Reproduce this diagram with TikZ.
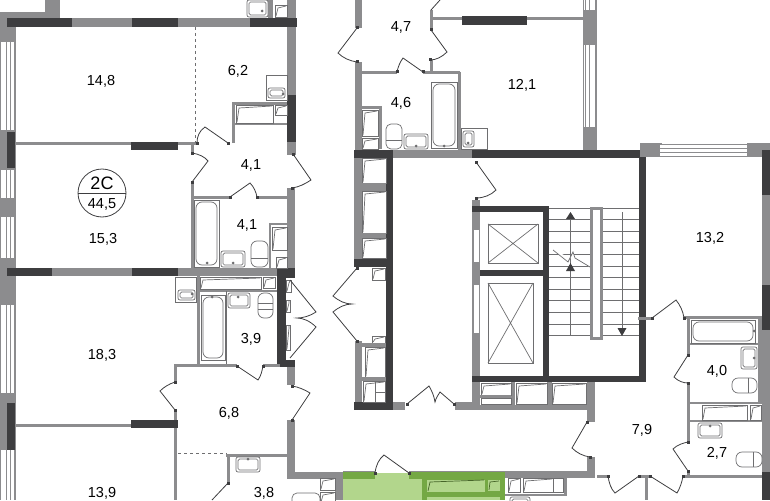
\documentclass[tikz,border=0pt]{standalone}
\usepackage{fontspec}
\setmainfont{Liberation Sans}
\definecolor{wallgray}{HTML}{8C8C8E}
\definecolor{walldark}{HTML}{3D3D3F}
\definecolor{fitgray}{HTML}{6E6E70}
\definecolor{greenlight}{HTML}{B2D68C}
\definecolor{greendark}{HTML}{74A844}
\tikzset{
  wallg/.style={fill=wallgray},
  walld/.style={fill=walldark},
  thinwall/.style={draw=wallgray,line width=3},
  fitting/.style={draw=fitgray,line width=.7,fill=white},
  fitline/.style={draw=fitgray,line width=.7},
  doorleaf/.style={draw=walldark,line width=.8},
  area/.style={font=\fontsize{14.5}{16}\selectfont,inner sep=0pt},
  winline/.style={draw=wallgray,line width=1}
}
\newcommand{\gw}[4]{\fill[wallg] (#1,#2) rectangle (#3,#4);}
\newcommand{\dw}[4]{\fill[walld] (#1,#2) rectangle (#3,#4);}
\newcommand{\ductbox}[4]{\draw[fitting] (#1,#2) rectangle (#3,#4);
  \draw[fitline] ({#1+1},{#4-1}) -- ({#1+3},{#2+3}) -- ({#3-1},{#2+1});}
\newcommand{\sinkbox}[4]{\draw[fitting,rounded corners=2] (#1,#2) rectangle (#3,#4);
  \draw[fitline,rounded corners=1.5] ({#1+2},{#2+2}) rectangle ({#3-2},{#4-2});}
\newcommand{\bathbox}[4]{\draw[fitting] (#1,#2) rectangle (#3,#4);
  \draw[fitline,rounded corners=6] ({#1+2},{#2+2}) rectangle ({#3-2},{#4-2});}
\newcommand{\toiletv}[4]{\draw[fitting,rounded corners=6] (#1,#2) rectangle (#3,#4);
  \draw[fitline] (#1,{#4-9}) -- (#3,{#4-9});}
\newcommand{\toileth}[4]{\draw[fitting,rounded corners=6] (#1,#2) rectangle (#3,#4);
  \draw[fitline] ({#3-9},#2) -- ({#3-9},#4);}
\begin{document}
\begin{tikzpicture}[x=1pt,y=-1pt]
\useasboundingbox (0,0) rectangle (770,500);
% top left corner
\gw{0}{12}{60}{18}
\gw{45}{0}{60}{18}
% left outer wall and windows
\gw{0}{18}{15.5}{500}
\foreach \a/\b in {42/130,170/198,217/258,305/393,450/500}{
  \fill[white] (1,\a) rectangle (15.5,\b);
  \draw[winline] (0.5,\a) -- (0.5,\b);
  \draw[winline] (6.7,\a) -- (6.7,\b);
  \draw[winline] (10.5,\a) -- (10.5,\b);
  \draw[winline,line width=2] (14.5,\a) -- (14.5,\b);
}
\dw{7}{132}{15}{168}
\dw{7}{403}{15}{450}
% flat walls, left side
\gw{7}{18}{297}{27}
\dw{7}{18}{72}{27}
\dw{132}{18}{178}{27}
\dw{250}{18}{297}{27}
\gw{287}{0}{296}{18}
\gw{268}{0}{273}{18}
\gw{287}{27}{296}{155}
\dw{287}{95}{296}{142}
\gw{287}{188}{295}{270}
\draw[thinwall] (15,143.5) -- (196,143.5);
\dw{131}{142}{178}{150}
\draw[thinwall] (192,143) -- (192,153);
\draw[thinwall] (192,182) -- (192,270);
\draw[thinwall] (191,197) -- (230,197);
\draw[thinwall] (257,197) -- (287,197);
\draw[dashed,fitline] (195.5,27) -- (195.5,143);
\draw[thinwall] (233,143) -- (233,103.5) -- (287,103.5);
\draw[thinwall,line width=2] (235,124) -- (287,124);
\gw{7}{268}{295}{276}
\dw{7}{268}{52}{276}
\dw{132}{268}{178}{276}
\dw{277}{268}{295}{278}
\dw{277}{268}{286}{367}
\dw{277}{360}{295}{367}
\gw{287}{367}{295}{385}
\gw{287}{420}{295}{479}
\gw{288}{472}{343}{479}
\draw[thinwall] (198.5,276) -- (198.5,365);
\draw[thinwall,line width=2] (198,291) -- (277,291);
\draw[fitline] (226.5,291) -- (226.5,365);
\draw[thinwall] (175,367) -- (175,365.5) -- (237,365.5);
\draw[thinwall] (263,365.5) -- (280,365.5);
\draw[thinwall] (175,365) -- (175,382);
\draw[thinwall] (175,410) -- (175,500);
\draw[thinwall] (15,425) -- (131,425);
\dw{131}{420}{178}{428}
\draw[dashed,fitline] (178,453) -- (227,453);
\draw[thinwall] (226,455.5) -- (290,455.5);
\draw[thinwall] (228.5,455) -- (228.5,483);
% core walls
\gw{355}{0}{362}{28}
\gw{355}{62}{362}{155}
\gw{355}{341}{362}{402}
\gw{354}{158}{362}{262}
\draw[thinwall] (431,10) -- (431,30);
\draw[thinwall] (431,60) -- (431,72);
\draw[thinwall] (431,18.5) -- (583,18.5);
\dw{462}{16}{527}{25}
\draw[thinwall] (360,72.5) -- (397,72.5);
\draw[thinwall] (423,72.5) -- (460,72.5);
\draw[thinwall] (459,72) -- (459,150);
\gw{393}{150}{472}{158}
\dw{354}{150}{393}{158}
\dw{472}{150}{646}{158}
\dw{386}{150}{393}{410}
\dw{354}{259}{393}{267}
\dw{354}{402}{393}{410}
\gw{393}{402}{405}{410}
\gw{455}{402}{472}{410}
\gw{472}{382}{480}{410}
\gw{472}{405}{595}{410}
\dw{639}{150}{646}{382}
\dw{472}{376}{646}{382}
\dw{472}{206}{549}{212}
\dw{543}{206}{549}{382}
\dw{472}{270}{543}{276}
\gw{472}{200}{480}{206}
\gw{472}{212}{480}{376}
\fill[white] (473.5,230) rectangle (478.5,262);
\fill[white] (473.5,285) rectangle (478.5,333);
\gw{511}{382}{515}{405}
\gw{547}{382}{552}{405}
\gw{587}{382}{595}{422}
\gw{587}{457}{595}{478}
\gw{505}{471}{595}{478}
\gw{335}{479}{343}{500}
% right part
\gw{583}{0}{597}{150}
\foreach \a/\b in {0/10,45/127}{
  \fill[white] (584,\a) rectangle (596,\b);
  \draw[winline] (585,\a) -- (585,\b);
  \draw[winline] (589.5,\a) -- (589.5,\b);
  \draw[winline] (595.5,\a) -- (595.5,\b);
}
\gw{640}{143}{662}{157}
\gw{747}{143}{770}{157}
\fill[white] (660,144) rectangle (747,157);
\foreach \a in {144,148,152,156}{\draw[winline] (660,\a) -- (747,\a);}
\gw{762}{150}{770}{500}
\dw{762}{150}{770}{195}
\dw{762}{285}{770}{330}
\dw{762}{472}{770}{500}
\gw{758}{318}{762}{403}
\draw[thinwall] (638,318) -- (652,318);
\draw[thinwall] (684,317.5) -- (762,317.5);
\draw[thinwall] (688,317) -- (688,355);
\draw[thinwall] (688,383) -- (688,442);
\draw[thinwall] (688,471) -- (688,477);
\draw[thinwall] (597,476.5) -- (608,476.5);
\draw[thinwall] (639,476.5) -- (650,476.5);
\draw[thinwall] (683,476.5) -- (762,476.5);
\draw[thinwall] (646,476) -- (646,500);
\draw[thinwall,line width=2] (688,344) -- (758,344);
\draw[thinwall,line width=2] (690,403) -- (762,403);
\draw[thinwall,line width=2] (690,421) -- (762,421);
\draw[thinwall] (565,477) -- (565,496);
\draw[thinwall,line width=2] (505,495) -- (566,495);
% stairs
\foreach \y in {208,219.6,...,338}{\draw[fitline] (549,\y) -- (639,\y);}
\fill[wallgray] (590,207) rectangle (603,340);
\fill[white] (593,210) rectangle (600,337);
\draw[fitline] (570.5,335) -- (570.5,219);
\draw[fitline] (622,212) -- (622,328);
\fill[walldark] (570.5,212) -- (566,219) -- (575,219) -- cycle;
\fill[walldark] (570.5,263) -- (566,271) -- (575,271) -- cycle;
\fill[walldark] (622,336) -- (617.5,328) -- (626.5,328) -- cycle;
\draw[fitline,fill=white] (553,250) -- (568,262) -- (573,252) -- (575,258) -- (590,267);
% lifts
\draw[fitline] (488,224) rectangle (538,263);
\draw[fitline] (488,224) -- (538,263) (488,263) -- (538,224);
\draw[fitline] (488,283) rectangle (533,363);
\draw[fitline] (488,283) -- (533,363) (488,363) -- (533,283);
% green block
\fill[greenlight] (343,473) rectangle (422,500);
\fill[wallgray] (343,470.5) rectangle (375,472.5);
\fill[wallgray] (409,470.5) rectangle (505,472.5);
\fill[greendark] (343,472) rectangle (375,479);
\fill[greendark] (409,472) rectangle (505,479);
\fill[greendark] (422,479) rectangle (505,500);
\fill[greenlight] (427,479.5) rectangle (485,492);
\fill[greenlight] (488,479.5) rectangle (500,491);
\fill[greenlight] (427,497) rectangle (500,500);
\draw[draw=greendark!60!black,line width=.7] (428,491) -- (430,482) -- (484,480);
\draw[draw=greendark!60!black,line width=.7] (489,490) -- (490,482) -- (499,481);
% fittings
\sinkbox{247}{0}{268}{17}
\ductbox{275}{5}{287}{17}
\draw[fitting] (266,75) rectangle (287,100);
\sinkbox{268}{88}{285}{98}
\ductbox{236}{105}{273}{123}
\ductbox{275}{105}{287}{115}
\bathbox{194}{200}{219}{267}
\sinkbox{221}{251}{245}{267}
\toiletv{251}{241}{268}{267}
\draw[thinwall,line width=2] (270,268) -- (270,224) -- (287,224);
\ductbox{272}{227}{287}{250}
\ductbox{276}{257}{287}{268}
\draw[fitting] (175,277) rectangle (196,302);
\sinkbox{178}{290}{195}{300}
\ductbox{200}{277}{261}{289}
\ductbox{263}{277}{275}{288}
\bathbox{201}{295}{225}{360}
\sinkbox{228}{293}{250}{308}
\toiletv{258}{293}{273}{318}
\draw[fitline] (258,303) -- (273,303);
\ductbox{286}{280}{291}{292}
\ductbox{286}{300}{290}{312}
\ductbox{286}{325}{290}{350}
\sinkbox{236}{457}{260}{472}
\draw[fitting,rounded corners=5] (292,493) rectangle (320,510);
\bathbox{431}{82}{457}{148}
\sinkbox{404}{134}{428}{149}
\draw[fitting,rounded corners=5] (386,124) rectangle (402,149);
\draw[fitline] (386,140) -- (402,140);
\draw[fitting] (461,128) rectangle (487,149);
\sinkbox{463}{131}{474}{147}
\draw[thinwall] (380,149) -- (380,107.5) -- (362,107.5);
\ductbox{362}{110}{378}{136}
\ductbox{362}{138}{378}{149}
\ductbox{362}{158}{386}{183}
\gw{362}{183}{386}{191}
\ductbox{362}{191}{386}{233}
\gw{362}{233}{386}{238}
\ductbox{362}{238}{386}{258}
\ductbox{372}{268}{385}{280}
\ductbox{372}{336}{385}{343}
\gw{362}{343}{386}{347}
\ductbox{365}{347}{385}{377}
\gw{362}{377}{386}{381}
\ductbox{363}{381}{385}{402}
\draw[fitline] (375,381) -- (375,402) (375,392) -- (385,392);
\ductbox{481}{383}{511}{395}
\draw[fitting] (481,398) rectangle (511,404);
\ductbox{516}{383}{547}{404}
\ductbox{552}{383}{586}{404}
\draw[thinwall,line width=2.5] (480,396.5) -- (511,396.5);
\ductbox{320}{478}{335}{490}
\ductbox{320}{492}{335}{503}
\ductbox{508}{478}{520}{492}
\ductbox{523}{478}{553}{492}
\draw[fitting] (553,478) rectangle (563,492);
\sinkbox{510}{497}{530}{510}
\bathbox{691}{320}{755}{343}
\sinkbox{741}{347}{757}{369}
\toileth{732}{378}{757}{393}
\ductbox{702}{405}{747}{420}
\ductbox{750}{405}{761}{420}
\sinkbox{698}{423}{722}{438}
\toileth{736}{452}{762}{467}
\foreach \x/\y in {262/11,283/94,207/263,233/263,212/297,238/297,192/294,
  416/146,444/146,468/143,248/459,754/331,754/358,710/426}{
  \fill[fitgray] (\x,\y) circle (1.5);
}
% doors
\draw[doorleaf] (228,143) -- (205,127) .. controls (199,131) and (197,137) .. (197,143);
\draw[doorleaf] (192,153) .. controls (199,154) and (205,157) .. (208,161) -- (192,182);
\draw[doorleaf] (293,154) -- (311,180) .. controls (305,184) and (299,187) .. (292,188);
\draw[doorleaf] (230,197) -- (250,183) .. controls (254,187) and (256,192) .. (257,197);
\draw[doorleaf] (290,280) -- (316,312) .. controls (310,316) and (303,318) .. (297,318)
  .. controls (303,318) and (310,321) .. (316,327) -- (290,358);
\draw[doorleaf] (237,366) -- (258,380) .. controls (261,376) and (262,371) .. (263,366);
\draw[doorleaf] (175,382) .. controls (169,384) and (164,387) .. (160,391) -- (175,410);
\draw[doorleaf] (292,386) .. controls (299,387) and (305,390) .. (310,393) -- (292,420);
\draw[doorleaf] (228,483) -- (212,500);
\draw[doorleaf] (357,28) -- (338,53) .. controls (343,58) and (350,61) .. (357,62);
\draw[doorleaf] (431,10) -- (440,0);
\draw[doorleaf] (431,30) -- (447,52) .. controls (442,57) and (436,60) .. (430,60);
\draw[doorleaf] (397,72) .. controls (398,67) and (400,62) .. (403,58) -- (423,72);
\draw[doorleaf] (476,162) -- (496,190) .. controls (491,195) and (484,198) .. (476,198);
\draw[doorleaf] (357,268) -- (333,296) .. controls (339,301) and (345,304) .. (352,304)
  .. controls (345,304) and (339,307) .. (333,312) -- (357,341);
\draw[doorleaf] (407,404) -- (429,386) .. controls (432,391) and (434,396) .. (435,402)
  .. controls (436,398) and (438,395) .. (440,392) -- (454,404);
\draw[doorleaf] (587,422) -- (572,448) .. controls (577,453) and (583,456) .. (590,457);
\draw[doorleaf] (375,473) .. controls (376,465) and (379,459) .. (384,455) -- (409,473);
\draw[doorleaf] (652,318) -- (676,300) .. controls (680,305) and (683,311) .. (684,318);
\draw[doorleaf] (688,355) -- (674,377) .. controls (678,381) and (683,383) .. (688,383);
\draw[doorleaf] (688,442) .. controls (683,443) and (677,445) .. (673,449) -- (688,471);
\draw[doorleaf] (608,476) .. controls (609,483) and (611,489) .. (615,493) -- (639,476);
\draw[doorleaf] (650,476) -- (677,493) .. controls (680,488) and (682,482) .. (683,476);
\foreach \x/\y in {197/143,228/143,192/153,192/182,293/154,292/188,230/197,257/197,
  237/366,263/366,175/382,175/410,292/386,292/420,228/483,357/28,357/62,431/30,430/60,
  397/72,423/72,476/162,476/198,357/268,357/341,407/404,454/404,587/422,590/457,
  375/473,409/473,652/318,684/318,688/355,688/383,688/442,688/471,608/476,
  639/476,650/476,683/476}{
  \fill[walldark] ({\x-1.5},{\y-1.5}) rectangle ({\x+1.5},{\y+1.5});
}
% flat badge
\draw[line width=.8,draw=walldark] (102,193) circle (24);
\draw[line width=.8,draw=walldark] (78,193) -- (126,193);
\node[font=\fontsize{18}{20}\selectfont,inner sep=0pt] (flatname) at (102,183) {2C};
\node[area] (flatsum) at (102,204) {44,5};
% areas
\node[area] (r148) at (101,81) {14,8};
\node[area] (r62) at (238,71) {6,2};
\node[area] (r41a) at (251,165) {4,1};
\node[area] (r41b) at (247,225) {4,1};
\node[area] (r153) at (103,239) {15,3};
\node[area] (r183) at (102,355) {18,3};
\node[area] (r39) at (251,339) {3,9};
\node[area] (r68) at (229,413) {6,8};
\node[area] (r139) at (102,493) {13,9};
\node[area] (r38) at (264,493) {3,8};
\node[area] (r47) at (401,27) {4,7};
\node[area] (r46) at (401,103) {4,6};
\node[area] (r121) at (522,85) {12,1};
\node[area] (r132) at (710,238) {13,2};
\node[area] (r40) at (717,371) {4,0};
\node[area] (r79) at (642,430) {7,9};
\node[area] (r27) at (717,453) {2,7};
\end{tikzpicture}
\end{document}
